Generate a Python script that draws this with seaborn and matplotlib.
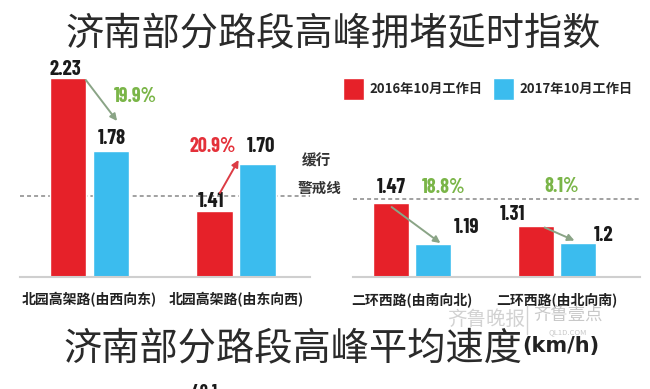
import matplotlib
matplotlib.use("Agg")
import matplotlib.pyplot as plt
import matplotlib.transforms as mtransforms
from matplotlib.lines import Line2D
import seaborn as sns
import pandas as pd

# ---------------- data ----------------
roads = ["北园高架路(由西向东)", "北园高架路(由东向西)", "二环西路(由南向北)", "二环西路(由北向南)"]
years = ["2016年10月工作日", "2017年10月工作日"]
index_2016 = [2.23, 1.41, 1.47, 1.31]
index_2017 = [1.78, 1.70, 1.19, 1.2]
labels_2016 = ["2.23", "1.41", "1.47", "1.31"]
labels_2017 = ["1.78", "1.70", "1.19", "1.2"]
change_labels = ["19.9%", "20.9%", "18.8%", "8.1%"]
change_up = [False, True, False, False]
warning_level = 1.5
warning_text = ["缓行", "警戒线"]
chart_title = "济南部分路段高峰拥堵延时指数"
next_title = "济南部分路段高峰平均速度"
next_unit = "(km/h)"
next_first_value = "40.1"

# ---------------- style ----------------
RED = "#e62129"
BLUE = "#3bbcee"
GREEN = "#7ab548"
PCT_RED = "#e4313a"
ARROW_GREEN = "#8aa486"
ARROW_RED = "#dc3c45"
TXT = "#2a2a2a"

sns.set_style("white")
plt.rcParams["font.family"] = ["Noto Sans CJK SC", "DejaVu Sans"]
NUM_FONT = ["Barlow Condensed", "DejaVu Sans"]

df = pd.DataFrame({
    "road": roads * 2,
    "year": [years[0]] * len(roads) + [years[1]] * len(roads),
    "value": index_2016 + index_2017,
})

W, H = 650, 389
fig = plt.figure(figsize=(W / 100, H / 100), dpi=100)


def fx(px):
    return px / W


def fy(py):
    return 1 - py / H


axL = fig.add_axes([fx(20), fy(277), fx(290), 217 / H])
axR = fig.add_axes([fx(353), fy(277), fx(287), 217 / H])

panels = [
    (axL, [0, 1], (-0.474, 1.505), (1.003, 2.341)),
    (axR, [2, 3], (-0.407, 1.572), (0.965, 2.447)),
]

# label / arrow offsets in pixels (dx, dy up)
off_2016 = [(-2, 3), (-3, 4), (1, 10), (-23, 6)]
off_2017 = [(1, 7), (3, 12), (33, 11), (25, 2)]
pct_off = [(24, 49), (-45, 12), (10, 51), (-17, 51)]
arrow_start = [(18, -2), (5.5, 18), (1, -4), (9, -1)]
arrow_end = [(6, 30), (-19, 4), (7, 1), (-4, 2)]

handles, leg_labels = None, None
for ax, ids, xl, yl in panels:
    rs = [roads[i] for i in ids]
    sub = df[df["road"].isin(rs)]
    sns.barplot(data=sub, x="road", y="value", hue="year", order=rs,
                hue_order=years, palette=[RED, BLUE], saturation=1,
                width=0.59, gap=0.16, ax=ax, legend=(ax is axL), errorbar=None)
    if ax is axL:
        handles, leg_labels = ax.get_legend_handles_labels()
        ax.get_legend().remove()
    ax.set_xlim(*xl)
    ax.set_ylim(*yl)
    ax.set_xlabel("")
    ax.set_ylabel("")
    ax.set_yticks([])
    for s in ["top", "left", "right"]:
        ax.spines[s].set_visible(False)
    ax.spines["bottom"].set_color("#cfcfcf")
    ax.spines["bottom"].set_linewidth(1.5)
    ax.axhline(warning_level, color="#9a9a9a", ls=(0, (2.2, 1.7)), lw=1.3, zorder=0.5)
    ax.tick_params(axis="x", length=0, pad=11, labelsize=10, labelcolor="#222222")
    for t in ax.get_xticklabels():
        t.set_fontweight("bold")

    c16, c17 = ax.containers[0], ax.containers[1]
    for k, gi in enumerate(ids):
        r = c16[k]
        b = c17[k]
        rx = r.get_x() + r.get_width() / 2
        bx = b.get_x() + b.get_width() / 2
        ry = index_2016[gi]
        by = index_2017[gi]

        def tr(dx, dy):
            return mtransforms.offset_copy(ax.transData, fig=fig, x=dx, y=dy, units="dots")

        ax.text(rx, ry, labels_2016[gi], transform=tr(*off_2016[gi]), ha="center",
                va="baseline", fontsize=15, fontweight="bold", family=NUM_FONT, color="#1a1a1a")
        ax.text(bx, by, labels_2017[gi], transform=tr(*off_2017[gi]), ha="center",
                va="baseline", fontsize=15, fontweight="bold", family=NUM_FONT, color="#1a1a1a")
        ax.text(bx, by, change_labels[gi], transform=tr(*pct_off[gi]), ha="center",
                va="baseline", fontsize=14.5, fontweight="bold", family=NUM_FONT,
                color=PCT_RED if change_up[gi] else GREEN)
        ac = ARROW_RED if change_up[gi] else ARROW_GREEN
        ax.annotate("", xy=(bx, by), xycoords=tr(*arrow_end[gi]),
                    xytext=(rx, ry), textcoords=tr(*arrow_start[gi]),
                    arrowprops=dict(arrowstyle="-|>", color=ac, lw=1.4,
                                    mutation_scale=10, shrinkA=0, shrinkB=0),
                    annotation_clip=False)

fig.legend(handles, leg_labels, loc="center left", bbox_to_anchor=(fx(343), fy(89)),
           ncol=2, frameon=False, handlelength=1.59, handleheight=2.12,
           handletextpad=0.45, columnspacing=0.75, borderpad=0, borderaxespad=0,
           prop=dict(family=["Noto Sans CJK SC", "DejaVu Sans"], weight="bold", size=9.5))

fig.text(fx(316), fy(161), warning_text[0], ha="center", va="center", fontsize=10.5,
         color="#333333", fontweight="bold")
fig.text(fx(320), fy(188), warning_text[1], ha="center", va="center", fontsize=10.5,
         color="#333333", fontweight="bold")

fig.text(fx(333), fy(44), chart_title, ha="center", va="baseline", fontsize=27.5, color=TXT)

# watermark
fig.text(fx(486), fy(319), "齐鲁晚报", ha="center", va="center", fontsize=14,
         color="#d2d2d2", style="italic")
fig.add_artist(Line2D([fx(527), fx(527)], [fy(305), fy(334)], color="#d2d2d2", lw=1))
fig.text(fx(568), fy(315), "齐鲁壹点", ha="center", va="center", fontsize=12.5, color="#c8c8c8")
fig.text(fx(568), fy(332), "QL1D.COM", ha="center", va="center", fontsize=5.5, color="#c8c8c8")

fig.text(fx(63), fy(359), next_title, ha="left", va="baseline", fontsize=27.5, color=TXT)
fig.text(fx(522), fy(352), next_unit, ha="left", va="baseline", fontsize=15,
         fontweight="bold", family="DejaVu Sans", color="#222222")
fig.text(fx(192), fy(384), next_first_value, ha="left", va="top", fontsize=13,
         fontweight="bold", family=NUM_FONT, color="#1a1a1a")

fig.savefig("out.png", dpi=100)
